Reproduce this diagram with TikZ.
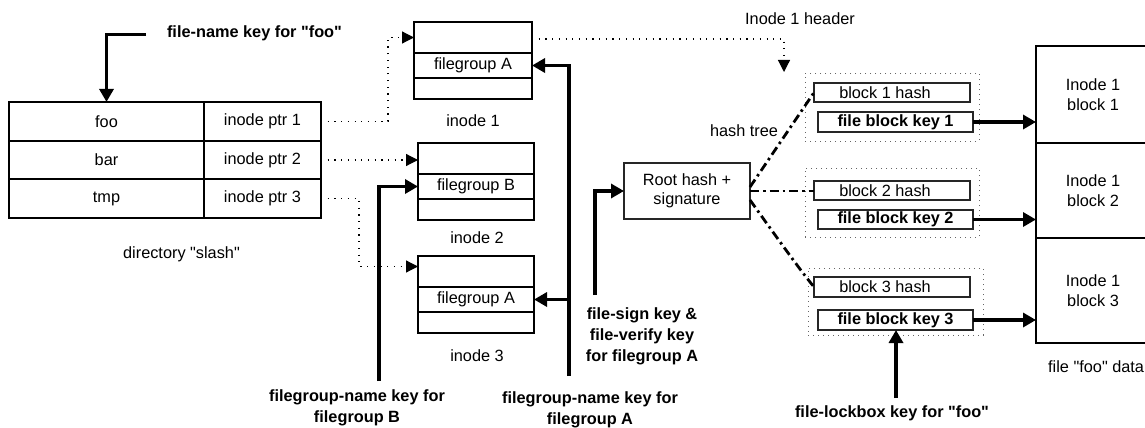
\documentclass[tikz,border=0pt]{standalone}
\usepackage{fontspec}
\setmainfont{Liberation Sans}[Ligatures=TeXOff]
\usetikzlibrary{arrows.meta,calc}
\tikzset{
  txt/.style={font=\fontsize{16.3}{20}\selectfont, inner sep=0pt},
  btxt/.style={font=\fontsize{16.3}{21}\selectfont\bfseries, inner sep=0pt, align=center},
  cell/.style={draw, line width=2pt, inner sep=0pt, outer sep=0pt, font=\fontsize{16.3}{20}\selectfont, align=center},
  thinbox/.style={draw=black!85, line width=1.3pt, inner sep=0pt, outer sep=0pt, font=\fontsize{16.3}{19}\selectfont, align=center},
  grp/.style={draw=black!60, line width=1pt, dash pattern=on 1pt off 4pt, inner sep=0pt, outer sep=0pt},
  dotarrow/.style={line width=1.2pt, dash pattern=on 1.2pt off 5.5pt, -{Triangle[length=12pt,width=12pt]}},
  keyarrow/.style={line width=3.5pt, -{Triangle[length=13pt,width=14pt]}},
  hashline/.style={line width=2.8pt, dash pattern=on 9pt off 4pt on 2.5pt off 4pt},
}
\begin{document}
\begin{tikzpicture}[x=1pt,y=-1pt]
\useasboundingbox (0,0) rectangle (1145,428);
\clip (0,0) rectangle (1145,428);

% directory table
\node[cell, minimum width=195pt, minimum height=38.7pt] (foo) at (106.5,121.3) {foo};
\node[cell, minimum width=117pt, minimum height=38.7pt] (p1) at (262.5,121.3) {inode ptr 1};
\node[cell, minimum width=195pt, minimum height=38.7pt] (bar) at (106.5,160) {bar};
\node[cell, minimum width=117pt, minimum height=38.7pt] (p2) at (262.5,160) {inode ptr 2};
\node[cell, minimum width=195pt, minimum height=38.7pt] (tmp) at (106.5,198.7) {tmp};
\node[cell, minimum width=117pt, minimum height=38.7pt] (p3) at (262.5,198.7) {inode ptr 3};
\node[txt] (dirlbl) at (181.5,254) {directory "slash"};

% inodes
\node[cell, minimum width=118pt, minimum height=31pt] (i1top) at (473,37.5) {};
\node[cell, minimum width=118pt, minimum height=25pt] (i1fg) at (473,65.5) {filegroup A};
\node[cell, minimum width=118pt, minimum height=21pt] (i1bot) at (473,88.5) {};
\node[txt] (i1lbl) at (473,121) {inode 1};

\node[cell, minimum width=116pt, minimum height=31pt] (i2top) at (476,158.5) {};
\node[cell, minimum width=116pt, minimum height=25pt] (i2fg) at (476,186.5) {filegroup B};
\node[cell, minimum width=116pt, minimum height=21pt] (i2bot) at (476,209.5) {};
\node[txt] (i2lbl) at (477,238) {inode 2};

\node[cell, minimum width=116pt, minimum height=31pt] (i3top) at (476,271.5) {};
\node[cell, minimum width=116pt, minimum height=25pt] (i3fg) at (476,299.5) {filegroup A};
\node[cell, minimum width=116pt, minimum height=21pt] (i3bot) at (476,322.5) {};
\node[txt] (i3lbl) at (477,356) {inode 3};

% root hash
\node[thinbox, minimum width=126pt, minimum height=56pt] (root) at (687,191) {Root hash +\\signature};

% hash groups
\node[grp, minimum width=174pt, minimum height=68pt] (g1) at (892,107) {};
\node[grp, minimum width=174pt, minimum height=69pt] (g2) at (892,202.5) {};
\node[grp, minimum width=175pt, minimum height=67pt] (g3) at (895.5,301.5) {};

\node[thinbox, minimum width=156pt, minimum height=19pt] (h1) at (892,92.5) {block 1 hash\hspace*{14pt}};
\node[thinbox, minimum width=155pt, minimum height=20pt, font=\fontsize{16.3}{19}\selectfont\bfseries] (fbk1) at (895.5,122) {file block key 1};
\node[thinbox, minimum width=156pt, minimum height=19pt] (h2) at (892,190.5) {block 2 hash\hspace*{14pt}};
\node[thinbox, minimum width=155pt, minimum height=19pt, font=\fontsize{16.3}{19}\selectfont\bfseries] (fbk2) at (895.5,219.5) {file block key 2};
\node[thinbox, minimum width=156pt, minimum height=20pt] (h3) at (892,287) {block 3 hash\hspace*{14pt}};
\node[thinbox, minimum width=155pt, minimum height=20pt, font=\fontsize{16.3}{19}\selectfont\bfseries] (fbk3) at (895.5,320) {file block key 3};

\node[txt] (htree) at (744,131) {hash tree};
\node[txt] (hdrlbl) at (800,19) {Inode 1 header};

% data blocks
\node[cell, minimum width=114pt, minimum height=97pt] (d1) at (1093,94.5) {Inode 1\\block 1};
\node[cell, minimum width=114pt, minimum height=95pt] (d2) at (1093,190.5) {Inode 1\\block 2};
\node[cell, minimum width=114pt, minimum height=105pt] (d3) at (1093,290.5) {Inode 1\\block 3};
\node[txt, anchor=west] (datalbl) at (1048,367) {file "foo" data};

% bold key labels
\node[btxt] (fnlbl) at (254.5,33) {file-name key for "foo"};
\node[btxt] (fgblbl) at (357,408) {filegroup-name key for\\filegroup B};
\node[btxt] (fgalbl) at (590,410) {filegroup-name key for\\filegroup A};
\node[btxt] (fslbl) at (642,336) {file-sign key \&\\file-verify key\\for filegroup A};
\node[btxt] (lblbl) at (892,413) {file-lockbox key for "foo"};

% dotted pointers
\draw[dotarrow] (p1.east) -- ++(67,0) |- (i1top.west);
\draw[dotarrow] (p2.east) -- (p2.east -| i2top.west);
\draw[dotarrow] (p3.east) -- ++(38,0) |- ([yshift=5pt]i3top.west);
\coordinate (hdr) at (784,72);
\draw[dotarrow] ([yshift=-1.5pt]i1top.east) -| (hdr);

% hash tree lines
\draw[hashline] ([yshift=4pt]root.east) -- (h1.west);
\draw[hashline] (root.east) -- (root.east -| h2.west);
\draw[hashline] ([yshift=-9pt]root.east) .. controls (775,235) and (800,270) .. (h3.west);

% key arrows
\coordinate (fnk) at (146,34.5);
\draw[keyarrow] (fnk) -| (foo.north);
\coordinate (fga) at (569,376);
\draw[keyarrow] (fga) |- (i1fg.east);
\draw[keyarrow] (fga |- i3fg.east) -- (i3fg.east);
\coordinate (fgb) at (379,381);
\draw[keyarrow] (fgb) |- (i2fg.west);
\coordinate (fsk) at (595,295);
\draw[keyarrow] (fsk) |- (root.west);
\coordinate (lbk) at (896,398);
\draw[keyarrow] (lbk) -- (lbk |- fbk3.south);

% block key to data
\draw[keyarrow] (fbk1.east) -- (fbk1.east -| d1.west);
\draw[keyarrow] (fbk2.east) -- (fbk2.east -| d2.west);
\draw[keyarrow] (fbk3.east) -- (fbk3.east -| d3.west);
\end{tikzpicture}
\end{document}
